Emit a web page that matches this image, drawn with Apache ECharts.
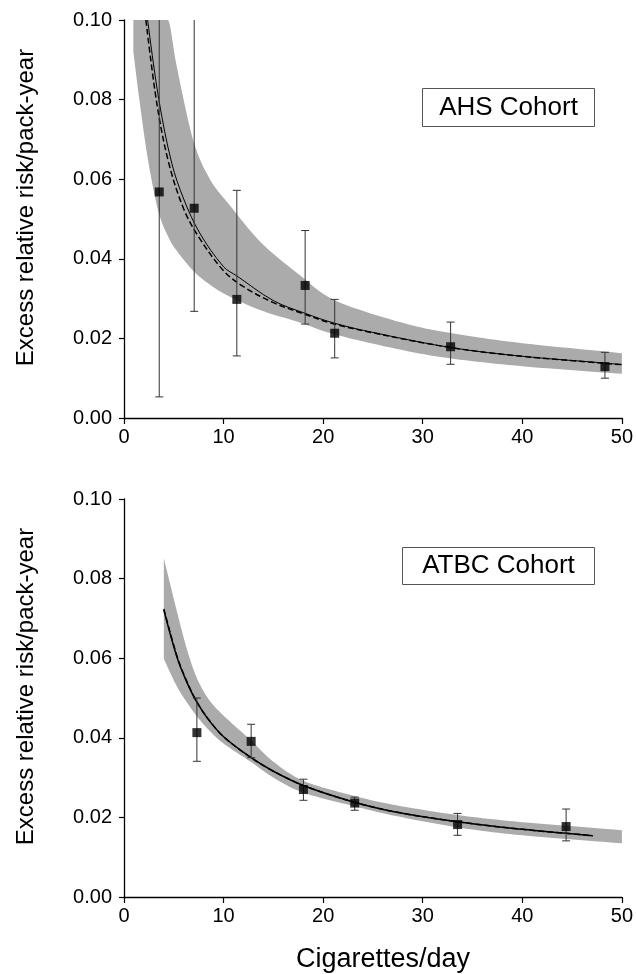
<!DOCTYPE html>
<html>
<head>
<meta charset="utf-8">
<script src="https://cdn.jsdelivr.net/npm/echarts@6/dist/echarts.min.js"></script>
<style>
html,body{margin:0;padding:0;background:#fff;}
#chart{width:636px;height:974px;}
</style>
</head>
<body>
<div id="chart"></div>
<script>
// ---------- data ----------
var xTicks = [0, 10, 20, 30, 40, 50];
var yTicks = [0.00, 0.02, 0.04, 0.06, 0.08, 0.10];

// AHS cohort: observed points [cig/day, ERR/PY, lower CI, upper CI]
var ahsPoints = [
  [3.54, 0.0568, 0.0053, 0.130],
  [7.05, 0.0527, 0.0268, 0.130],
  [11.33, 0.0298, 0.0156, 0.0572],
  [18.19, 0.0333, 0.0236, 0.0471],
  [21.16, 0.0213, 0.0151, 0.0298],
  [32.8, 0.0179, 0.0135, 0.0241],
  [48.3, 0.0129, 0.0100, 0.0165]
];
var ahsFitSolid = [
  [2.37, 0.100], [3.5, 0.080], [4.8, 0.064], [6.0, 0.0550], [7.6, 0.0465],
  [10.0, 0.0380], [11.33, 0.0357], [15.0, 0.0295], [18.19, 0.0263],
  [21.16, 0.0238], [25.0, 0.0215], [32.8, 0.0177], [40.0, 0.0155],
  [48.3, 0.0138], [50.0, 0.0134]
];
var ahsFitDashed = [
  [2.2, 0.100], [3.3, 0.079], [4.5, 0.0640], [6.0, 0.0525], [7.5, 0.0455],
  [10.0, 0.0370], [12.0, 0.0330], [15.0, 0.0290], [18.0, 0.0262],
  [21.0, 0.0237], [25.0, 0.0214], [32.8, 0.0177], [40.0, 0.0155], [50.0, 0.0134]
];
// confidence band (upper edge is cut by the top of the plot below x≈4.5)
var ahsBandX =     [0.94, 1.54, 2.4, 3.44, 4.45, 5.3, 6.95, 8.63, 10.6, 13.8, 17.65, 21.16, 27.7, 32.7, 40.0, 50.0];
var ahsBandLower = [0.092, 0.080, 0.065, 0.052, 0.0455, 0.0420, 0.0370, 0.0335, 0.0305, 0.0270, 0.0240, 0.0210, 0.0172, 0.0150, 0.0130, 0.0111];
var ahsBandUpper = [0.100, 0.100, 0.100, 0.100, 0.100, 0.0883, 0.0698, 0.0600, 0.0535, 0.0440, 0.0359, 0.0296, 0.0241, 0.0214, 0.0188, 0.0163];

// ATBC cohort
var atbcPoints = [
  [7.32, 0.0413, 0.0341, 0.0500],
  [12.77, 0.0391, 0.0350, 0.0434],
  [18.02, 0.0270, 0.0243, 0.0296],
  [23.17, 0.0236, 0.0218, 0.0251],
  [33.5, 0.0182, 0.0155, 0.0210],
  [44.4, 0.0177, 0.0141, 0.0221]
];
var atbcFitSolid = [
  [4.0, 0.0721], [5.29, 0.0605], [6.22, 0.0545], [7.3, 0.0490], [8.5, 0.0445],
  [10.03, 0.0402], [12.77, 0.0350], [15.0, 0.0316], [18.02, 0.0280],
  [22.6, 0.0242], [27.0, 0.0215], [33.5, 0.0189], [40.0, 0.0170],
  [44.4, 0.0160], [47.07, 0.0154]
];
var atbcFitDashed = [
  [4.0, 0.0724], [5.29, 0.0608], [6.22, 0.0547], [7.3, 0.0491], [8.5, 0.0446],
  [10.03, 0.0402], [12.77, 0.0350], [15.0, 0.0316], [18.02, 0.0280],
  [22.6, 0.0242], [27.0, 0.0215], [33.5, 0.0189], [40.0, 0.0170],
  [44.4, 0.0160], [47.07, 0.0154]
];
var atbcBandX =     [4.0, 5.29, 6.29, 7.29, 8.5, 10.03, 12.77, 15.0, 18.02, 22.67, 27.0, 33.5, 40.0, 50.0];
var atbcBandLower = [0.0598, 0.0530, 0.0490, 0.0455, 0.0420, 0.0385, 0.0339, 0.0300, 0.0262, 0.0231, 0.0205, 0.0175, 0.0155, 0.0135];
var atbcBandUpper = [0.0851, 0.0720, 0.0625, 0.0552, 0.0497, 0.0455, 0.0393, 0.0340, 0.0292, 0.0257, 0.0232, 0.0206, 0.0188, 0.0168];

var panelLabels = ['AHS Cohort', 'ATBC Cohort'];
var yTitle = 'Excess relative risk/pack-year';
var xTitle = 'Cigarettes/day';

// ---------- chart ----------
var FONT = '"Liberation Sans", Arial, Helvetica, sans-serif';
var chart = echarts.init(document.getElementById('chart'), null, {renderer: 'canvas'});

function xAxisDef(gi, withName) {
  var a = {
    type: 'value', gridIndex: gi, min: xTicks[0], max: xTicks[xTicks.length - 1],
    interval: xTicks[1] - xTicks[0], z: 10,
    axisLine: {show: true, onZero: false, lineStyle: {color: '#000', width: 1.3}},
    axisTick: {show: true, inside: false, length: 6, lineStyle: {color: '#000', width: 1.2}},
    axisLabel: {color: '#000', fontSize: 20, fontFamily: FONT, margin: 9},
    splitLine: {show: false}
  };
  if (withName) {
    a.name = xTitle;
    a.nameLocation = 'middle';
    a.nameGap = 49;
    a.nameTextStyle = {color: '#000', fontSize: 27, fontFamily: FONT, padding: [0, 0, 0, 20]};
  }
  return a;
}
function yAxisDef(gi) {
  return {
    type: 'value', gridIndex: gi, min: yTicks[0], max: yTicks[yTicks.length - 1],
    interval: yTicks[1] - yTicks[0], z: 10,
    axisLine: {show: true, onZero: false, lineStyle: {color: '#000', width: 1.3}},
    axisTick: {show: true, inside: false, length: 5, lineStyle: {color: '#000', width: 1.2}},
    axisLabel: {color: '#000', fontSize: 20, fontFamily: FONT, margin: 12,
      formatter: function (v) { return v.toFixed(2); }},
    splitLine: {show: false},
    name: yTitle, nameLocation: 'middle', nameGap: 86, nameRotate: 90,
    nameTextStyle: {color: '#000', fontSize: 24, fontFamily: FONT, padding: [0, 0, 0, 23]}
  };
}

// Catmull-Rom smoothing of an edge, done in pixel space (rendering only)
function smoothPixels(p) {
  var out = [], steps = 12;
  for (var i = 0; i < p.length - 1; i++) {
    var p0 = p[Math.max(i - 1, 0)], p1 = p[i], p2 = p[i + 1], p3 = p[Math.min(i + 2, p.length - 1)];
    for (var s = 0; s < steps; s++) {
      var t = s / steps, t2 = t * t, t3 = t2 * t;
      out.push([
        0.5 * (2 * p1[0] + (-p0[0] + p2[0]) * t + (2 * p0[0] - 5 * p1[0] + 4 * p2[0] - p3[0]) * t2 + (-p0[0] + 3 * p1[0] - 3 * p2[0] + p3[0]) * t3),
        0.5 * (2 * p1[1] + (-p0[1] + p2[1]) * t + (2 * p0[1] - 5 * p1[1] + 4 * p2[1] - p3[1]) * t2 + (-p0[1] + 3 * p1[1] - 3 * p2[1] + p3[1]) * t3)
      ]);
    }
  }
  out.push(p[p.length - 1]);
  return out;
}
function bandSeries(idx, xs, lower, upper) {
  return {
    type: 'custom', xAxisIndex: idx, yAxisIndex: idx, clip: true, z: 1, silent: true,
    data: [[xs[0], lower[0]]],
    renderItem: function (params, api) {
      var up = xs.map(function (x, i) { return api.coord([x, upper[i]]); });
      var lo = xs.map(function (x, i) { return api.coord([x, lower[i]]); });
      var pts = smoothPixels(up).concat(smoothPixels(lo).reverse());
      return {type: 'polygon', shape: {points: pts}, style: {fill: '#ababab', stroke: null}};
    }
  };
}
function lineSeries(idx, data, dashed, width) {
  return {
    type: 'line', xAxisIndex: idx, yAxisIndex: idx, data: data, smooth: 0.35,
    showSymbol: false, symbol: 'none', clip: true, z: 3,
    lineStyle: {color: '#000', width: width, type: dashed ? 'dashed' : 'solid'},
    silent: true
  };
}
function errSeries(idx, pts) {
  return {
    type: 'custom', xAxisIndex: idx, yAxisIndex: idx, clip: true, z: 4, silent: true,
    data: pts,
    renderItem: function (params, api) {
      var x = api.value(0);
      var lo = api.coord([x, api.value(2)]);
      var hi = api.coord([x, api.value(3)]);
      var cw = 4;
      var st = {stroke: '#333', lineWidth: 1};
      return {type: 'group', children: [
        {type: 'line', shape: {x1: lo[0], y1: lo[1], x2: hi[0], y2: hi[1]}, style: st},
        {type: 'line', shape: {x1: lo[0] - cw, y1: lo[1], x2: lo[0] + cw, y2: lo[1]}, style: st},
        {type: 'line', shape: {x1: hi[0] - cw, y1: hi[1], x2: hi[0] + cw, y2: hi[1]}, style: st}
      ]};
    }
  };
}
function pointSeries(idx, pts) {
  return {
    type: 'scatter', xAxisIndex: idx, yAxisIndex: idx, z: 5, silent: true,
    data: pts.map(function (p) { return [p[0], p[1]]; }),
    symbol: 'rect', symbolSize: 9, itemStyle: {color: '#000'}
  };
}

var series = [
  bandSeries(0, ahsBandX, ahsBandLower, ahsBandUpper),
  lineSeries(0, ahsFitSolid, false, 1),
  lineSeries(0, ahsFitDashed, true, 1.5),
  errSeries(0, ahsPoints),
  pointSeries(0, ahsPoints),
  bandSeries(1, atbcBandX, atbcBandLower, atbcBandUpper),
  lineSeries(1, atbcFitSolid, false, 1.5),
  lineSeries(1, atbcFitDashed, true, 1.5),
  errSeries(1, atbcPoints),
  pointSeries(1, atbcPoints)
];

var option = {
  backgroundColor: '#fff',
  animation: false,
  textStyle: {fontFamily: FONT},
  grid: [
    {left: 124, top: 20, width: 498, height: 398},
    {left: 124, top: 499, width: 498, height: 398}
  ],
  xAxis: [xAxisDef(0, false), xAxisDef(1, true)],
  yAxis: [yAxisDef(0), yAxisDef(1)],
  series: series,
  graphic: [
    {type: 'group', left: 422, top: 88, children: [
      {type: 'rect', shape: {x: 0, y: 0, width: 172, height: 38},
        style: {fill: '#fff', stroke: '#555', lineWidth: 1}},
      {type: 'text', x: 86, y: 19, style: {text: panelLabels[0], fill: '#000',
        font: '26px ' + FONT, textAlign: 'center', textVerticalAlign: 'middle'}}
    ]},
    {type: 'group', left: 402, top: 547, children: [
      {type: 'rect', shape: {x: 0, y: 0, width: 192, height: 37},
        style: {fill: '#fff', stroke: '#555', lineWidth: 1}},
      {type: 'text', x: 96, y: 18.5, style: {text: panelLabels[1], fill: '#000',
        font: '26px ' + FONT, textAlign: 'center', textVerticalAlign: 'middle'}}
    ]}
  ]
};
chart.setOption(option);
</script>
</body>
</html>
